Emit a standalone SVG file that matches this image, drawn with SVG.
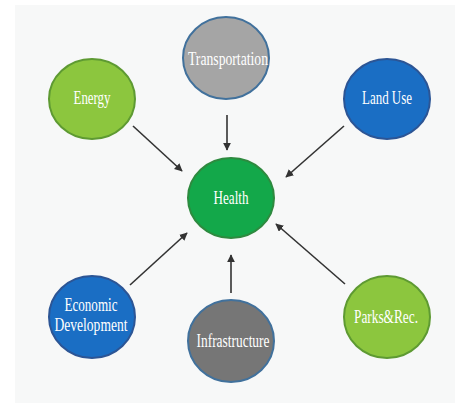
<svg xmlns="http://www.w3.org/2000/svg" width="455" height="409" viewBox="0 0 455 409">
<style>
.n{stroke-width:2}
.t{font-family:"Liberation Serif","DejaVu Serif",serif;font-size:18px;fill:#ffffff;text-anchor:middle}
.c line{stroke:#333333;stroke-width:1.6;marker-end:url(#ah)}
</style>
<defs>
<marker id="ah" viewBox="0 0 10 10" refX="9" refY="5" markerWidth="5" markerHeight="5" orient="auto" markerUnits="strokeWidth">
<path d="M0,0 L10,5 L0,10 z" fill="#333333"/>
</marker>
</defs>
<rect x="0" y="0" width="455" height="409" fill="#ffffff"/>
<rect x="15" y="5" width="440" height="398" fill="#f7f8f8"/>
<g class="c" id="connectors">
<line x1="133" y1="126" x2="182" y2="171"/>
<line x1="227" y1="115" x2="227" y2="150"/>
<line x1="344" y1="126" x2="286" y2="177"/>
<line x1="130" y1="285" x2="187" y2="233"/>
<line x1="231" y1="293" x2="231" y2="255"/>
<line x1="345" y1="284" x2="276" y2="224"/>
</g>
<g id="transportation">
<ellipse class="n" cx="226" cy="58" rx="43" ry="41" fill="#a5a5a5" stroke="#41719c"/>
<text class="t" x="228" y="65" textLength="80" lengthAdjust="spacingAndGlyphs">Transportation</text>
</g>
<g id="energy">
<ellipse class="n" cx="92" cy="99" rx="43" ry="40" fill="#8cc63e" stroke="#5e9a32"/>
<text class="t" x="92" y="104" textLength="37" lengthAdjust="spacingAndGlyphs">Energy</text>
</g>
<g id="landuse">
<ellipse class="n" cx="387" cy="99" rx="43" ry="40" fill="#1a6ec4" stroke="#2c5595"/>
<text class="t" x="387" y="104" textLength="50" lengthAdjust="spacingAndGlyphs">Land Use</text>
</g>
<g id="health">
<ellipse class="n" cx="231" cy="198" rx="43" ry="40" fill="#13a84a" stroke="#2e8a3f"/>
<text class="t" x="231" y="204" textLength="35" lengthAdjust="spacingAndGlyphs">Health</text>
</g>
<g id="economic">
<ellipse class="n" cx="92" cy="317" rx="43" ry="41" fill="#1a6ec4" stroke="#2c5595"/>
<text class="t" x="91" y="311" textLength="53" lengthAdjust="spacingAndGlyphs">Economic</text>
<text class="t" x="91" y="331" textLength="73" lengthAdjust="spacingAndGlyphs">Development</text>
</g>
<g id="infrastructure">
<ellipse class="n" cx="231" cy="341" rx="43" ry="41" fill="#767676" stroke="#41719c"/>
<text class="t" x="233" y="347" textLength="73" lengthAdjust="spacingAndGlyphs">Infrastructure</text>
</g>
<g id="parks">
<ellipse class="n" cx="387" cy="317" rx="43" ry="41" fill="#8cc63e" stroke="#5e9a32"/>
<text class="t" x="386" y="323" textLength="64" lengthAdjust="spacingAndGlyphs">Parks&amp;Rec.</text>
</g>
</svg>
